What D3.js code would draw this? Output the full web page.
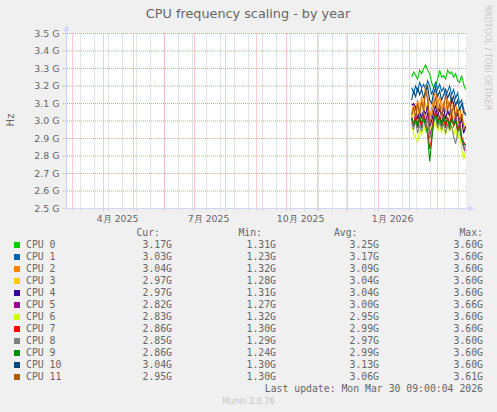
<!DOCTYPE html>
<html>
<head>
<meta charset="utf-8">
<script src="https://cdn.jsdelivr.net/npm/d3@7"></script>
<style>
  body { margin: 0; background: #f0f0f0; }
  svg { display: block; }
</style>
</head>
<body>
<div id="chart"></div>
<script>
// series meta
const cpuNames = ["CPU 0", "CPU 1", "CPU 2", "CPU 3", "CPU 4", "CPU 5",
                  "CPU 6", "CPU 7", "CPU 8", "CPU 9", "CPU 10", "CPU 11"];
const cpuColors = ["#00CC00", "#0066B3", "#FF8000", "#FFCC00", "#330099", "#990099",
                   "#CCFF00", "#FF0000", "#808080", "#008F00", "#00487D", "#B35A00"];

// samples (GHz), one every 2 days starting at firstSample
const firstSample = "2026-02-04T00:00:00Z";
const stepDays = 2;
const cpu0 = [3.25, 3.28, 3.26, 3.24, 3.29, 3.27, 3.30, 3.32, 3.29, 3.27, 3.22, 3.19, 3.20, 3.24,
              3.29, 3.25, 3.26, 3.24, 3.29, 3.27, 3.28, 3.25, 3.27, 3.23, 3.22, 3.26, 3.21, 3.18];
const cpu1 = [3.19, 3.16, 3.20, 3.17, 3.22, 3.19, 3.21, 3.18, 3.23, 3.20, 3.15, 3.19, 3.22, 3.18,
              3.21, 3.17, 3.19, 3.14, 3.17, 3.20, 3.15, 3.18, 3.13, 3.16, 3.10, 3.12, 3.07, 3.03];
const cpu2 = [3.04, 3.10, 3.06, 3.12, 3.05, 3.14, 3.08, 3.21, 3.16, 3.02, 3.07, 3.13, 3.18, 3.09,
              3.14, 3.07, 3.11, 3.05, 3.12, 3.08, 3.15, 3.06, 3.10, 3.03, 3.08, 3.00, 3.06, 3.04];
const cpu3 = [3.00, 3.06, 3.02, 3.08, 2.99, 3.05, 3.03, 3.10, 3.07, 2.95, 2.98, 3.06, 3.12, 3.04,
              3.08, 3.01, 3.06, 3.00, 3.05, 3.02, 3.07, 3.01, 3.04, 2.98, 3.02, 2.94, 2.99, 2.97];
const cpu4 = [3.09, 3.10, 3.08, 3.01, 3.05, 3.02, 3.06, 3.04, 3.09, 2.97, 3.00, 3.05, 3.09, 3.02,
              3.07, 3.03, 3.08, 3.01, 3.06, 3.03, 3.13, 3.10, 3.02, 3.04, 2.98, 3.01, 2.93, 2.97];
const cpu5 = [3.02, 2.98, 3.04, 2.96, 3.01, 2.97, 3.03, 2.99, 3.05, 2.92, 2.95, 3.01, 3.06, 2.98,
              3.03, 2.99, 3.04, 2.97, 3.02, 2.96, 3.01, 2.98, 3.03, 2.95, 2.99, 2.90, 2.86, 2.82];
const cpu6 = [2.97, 2.93, 2.90, 2.88, 2.95, 2.92, 2.97, 2.94, 3.00, 2.90, 2.92, 2.96, 3.01, 2.94,
              2.98, 2.93, 2.99, 2.92, 2.97, 2.94, 2.98, 2.92, 2.96, 2.90, 2.93, 2.84, 2.78, 2.83];
const cpu7 = [3.01, 2.97, 3.03, 2.98, 3.02, 2.96, 3.04, 3.00, 2.95, 2.84, 2.90, 3.02, 3.05, 2.99,
              3.03, 2.97, 3.01, 2.96, 3.02, 2.98, 3.04, 2.97, 3.00, 2.94, 2.98, 2.91, 2.88, 2.86];
const cpu8 = [2.99, 2.95, 3.00, 2.93, 2.98, 2.94, 3.01, 2.96, 3.02, 2.90, 2.93, 2.99, 3.03, 2.96,
              3.00, 2.95, 2.99, 2.93, 2.98, 2.95, 2.97, 2.91, 2.87, 2.93, 2.96, 2.89, 2.84, 2.85];
const cpu9 = [3.02, 2.98, 3.01, 2.96, 3.03, 2.99, 3.02, 2.97, 2.92, 2.77, 2.88, 3.00, 3.04, 2.98,
              3.02, 2.97, 3.03, 2.99, 3.01, 2.96, 3.02, 2.98, 3.01, 2.95, 2.97, 2.90, 2.87, 2.86];
const cpu10 = [3.12, 3.17, 3.14, 3.19, 3.15, 3.18, 3.13, 3.17, 3.20, 3.12, 3.10, 3.16, 3.19, 3.14,
               3.17, 3.12, 3.15, 3.18, 3.13, 3.16, 3.11, 3.14, 3.09, 3.12, 3.06, 3.10, 3.05, 3.04];
const cpu11 = [3.03, 3.08, 3.02, 3.10, 3.04, 3.11, 3.05, 3.18, 3.12, 2.98, 3.03, 3.09, 3.14, 3.05,
               3.10, 3.03, 3.08, 3.15, 3.06, 3.11, 3.04, 3.09, 3.02, 3.07, 3.00, 3.04, 2.97, 2.95];
const series = [cpu0, cpu1, cpu2, cpu3, cpu4, cpu5, cpu6, cpu7, cpu8, cpu9, cpu10, cpu11];

// legend numbers
const curVals = ["3.17G", "3.03G", "3.04G", "2.97G", "2.97G", "2.82G", "2.83G", "2.86G", "2.85G", "2.86G", "3.04G", "2.95G"];
const minVals = ["1.31G", "1.23G", "1.32G", "1.28G", "1.31G", "1.27G", "1.32G", "1.30G", "1.29G", "1.24G", "1.30G", "1.30G"];
const avgVals = ["3.25G", "3.17G", "3.09G", "3.04G", "3.04G", "3.00G", "2.95G", "2.99G", "2.97G", "2.99G", "3.13G", "3.06G"];
const maxVals = ["3.60G", "3.60G", "3.60G", "3.60G", "3.60G", "3.66G", "3.60G", "3.60G", "3.60G", "3.60G", "3.60G", "3.61G"];

// axes
const yTicks = [2.5, 2.6, 2.7, 2.8, 2.9, 3.0, 3.1, 3.2, 3.3, 3.4, 3.5];
const monthLabels = ["4月 2025", "7月 2025", "10月 2025", "1月 2026"];
const monthLabelAt = ["2025-04-16", "2025-07-16", "2025-10-16", "2026-01-16"];
const weekGridAnchor = "2025-03-09"; // minor grid every 2 weeks from here
const lastUpdate = "2026-03-30T09:00:04Z";
const spanDays = 400;

const W = 497, H = 412;
const plot = { left: 66, right: 466, top: 33.5, bottom: 208.5 };
const font = "'DejaVu Sans', sans-serif";
const mono = "'DejaVu Sans Mono', monospace";
const fontColor = "#666666";

const svg = d3.select("#chart")
    .append("svg")
    .attr("width", W)
    .attr("height", H);

svg.append("rect").attr("width", W).attr("height", H).attr("fill", "#f0f0f0");

const end = new Date(lastUpdate);
const start = d3.utcDay.offset(end, -spanDays);

const x = d3.scaleUtc().domain([start, end]).range([plot.left, plot.right]);
const y = d3.scaleLinear().domain([2.5, 3.5]).range([plot.bottom, plot.top]);
const px = d => Math.round(x(d)) + 0.5;

// canvas
svg.append("rect")
    .attr("x", plot.left).attr("y", plot.top)
    .attr("width", plot.right - plot.left).attr("height", plot.bottom - plot.top)
    .attr("fill", "#ffffff");

// minor grid (2 weeks)
const weeks = d3.utcSunday.range(new Date(weekGridAnchor), end, 2);
svg.append("g")
    .selectAll("line")
    .data(weeks)
    .join("line")
    .attr("x1", px).attr("x2", px)
    .attr("y1", plot.top).attr("y2", plot.bottom + 2)
    .attr("stroke", "#c8c8c8")
    .attr("stroke-dasharray", "1,1");

// major grid (months)
const months = d3.utcMonth.range(start, end);
svg.append("g")
    .selectAll("line")
    .data(months)
    .join("line")
    .attr("x1", px).attr("x2", px)
    .attr("y1", plot.top).attr("y2", plot.bottom + 3)
    .attr("stroke", "#f39a9a")
    .attr("stroke-dasharray", "1,1");

svg.append("g")
    .selectAll("line")
    .data(yTicks)
    .join("line")
    .attr("x1", plot.left - 3).attr("x2", plot.right)
    .attr("y1", d => y(d)).attr("y2", d => y(d))
    .attr("stroke", "#f39a9a")
    .attr("stroke-dasharray", "1,1");

// y labels
svg.append("g")
    .selectAll("text")
    .data(yTicks)
    .join("text")
    .attr("x", 59.5)
    .attr("y", d => y(d) + 3.3)
    .attr("text-anchor", "end")
    .attr("font-family", font)
    .attr("font-size", 9.4)
    .attr("fill", fontColor)
    .text(d => d.toFixed(1) + " G");

// x labels
svg.append("g")
    .selectAll("text")
    .data(monthLabels)
    .join("text")
    .attr("x", (d, i) => x(new Date(monthLabelAt[i])))
    .attr("y", 221.5)
    .attr("text-anchor", "middle")
    .attr("font-family", font)
    .attr("font-size", 9.4)
    .attr("fill", fontColor)
    .text(d => d);

// axes + arrows
const axisColor = "#CFD6F8";
svg.append("line")
    .attr("x1", plot.left + 0.5).attr("x2", plot.left + 0.5)
    .attr("y1", plot.bottom + 2).attr("y2", 29)
    .attr("stroke", axisColor);
svg.append("line")
    .attr("x1", plot.left - 3).attr("x2", 470)
    .attr("y1", plot.bottom).attr("y2", plot.bottom)
    .attr("stroke", axisColor);
svg.append("path")
    .attr("d", `M${plot.left - 2.5},31 L${plot.left + 3.5},31 L${plot.left + 0.5},25 Z`)
    .attr("fill", axisColor);
svg.append("path")
    .attr("d", `M468,${plot.bottom - 3} L468,${plot.bottom + 3} L474,${plot.bottom} Z`)
    .attr("fill", axisColor);

// lines
const line = d3.line()
    .x((d, i) => x(d3.utcDay.offset(new Date(firstSample), i * stepDays)))
    .y(d => y(d));

svg.append("g")
    .selectAll("path")
    .data(series)
    .join("path")
    .attr("d", line)
    .attr("fill", "none")
    .attr("stroke", (d, i) => cpuColors[i])
    .attr("stroke-width", 1.1);

// title, unit, watermark
svg.append("text")
    .attr("x", 248).attr("y", 17.5)
    .attr("text-anchor", "middle")
    .attr("font-family", font).attr("font-size", 12.8)
    .attr("fill", fontColor)
    .text("CPU frequency scaling - by year");

svg.append("text")
    .attr("transform", "translate(13.5,120) rotate(-90)")
    .attr("text-anchor", "middle")
    .attr("font-family", font).attr("font-size", 10)
    .attr("fill", fontColor)
    .text("Hz");

svg.append("text")
    .attr("transform", "translate(484.5,5) rotate(90)")
    .attr("font-family", font).attr("font-size", 8.2)
    .attr("fill", "#c8c8c8")
    .text("RRDTOOL / TOBI OETIKER");

// legend
const lg = svg.append("g")
    .attr("font-family", mono)
    .attr("font-size", 9.8)
    .attr("fill", fontColor);

const headers = [["Cur:", 160], ["Min:", 262], ["Avg:", 357.5], ["Max:", 483]];
lg.selectAll("text.hdr")
    .data(headers)
    .join("text")
    .attr("class", "hdr")
    .attr("x", d => d[1]).attr("y", 236)
    .attr("text-anchor", "end")
    .text(d => d[0]);

const rowY = i => 248.3 + i * 12;
const rows = lg.selectAll("g.row")
    .data(cpuNames)
    .join("g")
    .attr("class", "row");

rows.append("rect")
    .attr("x", 14).attr("y", (d, i) => rowY(i) - 6.3)
    .attr("width", 6).attr("height", 6)
    .attr("fill", (d, i) => cpuColors[i]);
rows.append("text").attr("x", 26).attr("y", (d, i) => rowY(i)).text(d => d);
rows.append("text").attr("x", 172).attr("y", (d, i) => rowY(i)).attr("text-anchor", "end").text((d, i) => curVals[i]);
rows.append("text").attr("x", 276).attr("y", (d, i) => rowY(i)).attr("text-anchor", "end").text((d, i) => minVals[i]);
rows.append("text").attr("x", 379).attr("y", (d, i) => rowY(i)).attr("text-anchor", "end").text((d, i) => avgVals[i]);
rows.append("text").attr("x", 483).attr("y", (d, i) => rowY(i)).attr("text-anchor", "end").text((d, i) => maxVals[i]);

lg.append("text")
    .attr("x", 483).attr("y", 391.6)
    .attr("text-anchor", "end")
    .text("Last update: Mon Mar 30 09:00:04 2026");

svg.append("text")
    .attr("x", 248.5).attr("y", 404)
    .attr("text-anchor", "middle")
    .attr("font-family", font).attr("font-size", 8)
    .attr("fill", "#c4c4c4")
    .text("Munin 2.0.76");
</script>
</body>
</html>
